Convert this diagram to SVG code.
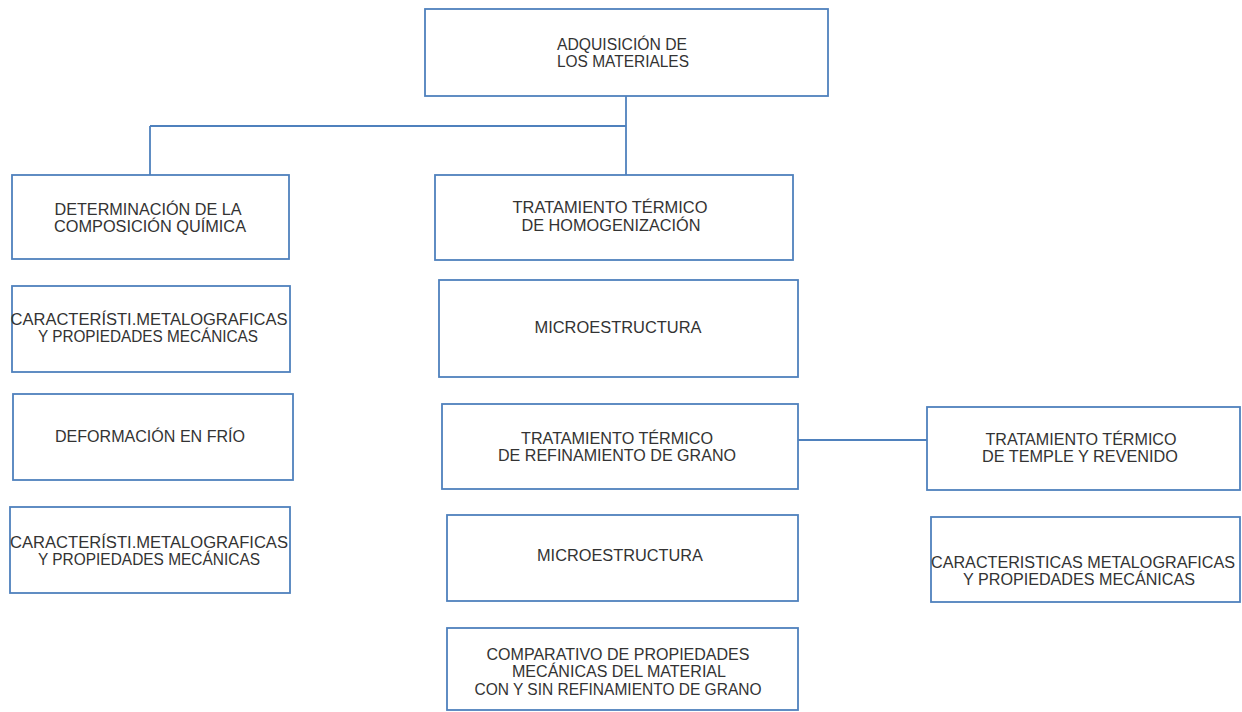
<svg xmlns="http://www.w3.org/2000/svg" width="1242" height="712" viewBox="0 0 1242 712">
<style>
.box{fill:#ffffff;stroke:#4f81bd;stroke-width:1.8}
.con{fill:none;stroke:#4f81bd;stroke-width:1.8}
text{font-family:"Liberation Sans",Arial,sans-serif;font-size:16px;fill:#333333;text-anchor:middle}
</style>
<rect width="1242" height="712" fill="#ffffff"/>
<g id="connectors">
<path class="con" d="M626,96 V175"/>
<path class="con" d="M150,126 H626"/>
<path class="con" d="M150,126 V175"/>
<path class="con" d="M798,440 H928"/>
</g>
<g id="n-adquisicion">
<rect class="box" x="425" y="9" width="403" height="87"/>
<text x="622" y="50" textLength="130" lengthAdjust="spacingAndGlyphs">ADQUISICIÓN DE</text>
<text x="623" y="67" textLength="132" lengthAdjust="spacingAndGlyphs">LOS MATERIALES</text>
</g>
<g id="n-composicion">
<rect class="box" x="12" y="175" width="277" height="84"/>
<text x="148" y="215" textLength="187" lengthAdjust="spacingAndGlyphs">DETERMINACIÓN DE LA</text>
<text x="150" y="232" textLength="192" lengthAdjust="spacingAndGlyphs">COMPOSICIÓN QUÍMICA</text>
</g>
<g id="n-caract1">
<rect class="box" x="12" y="286" width="278" height="86"/>
<text x="149" y="325" textLength="277" lengthAdjust="spacingAndGlyphs">CARACTERÍSTI.METALOGRAFICAS</text>
<text x="148" y="342" textLength="220" lengthAdjust="spacingAndGlyphs">Y PROPIEDADES MECÁNICAS</text>
</g>
<g id="n-deformacion">
<rect class="box" x="13" y="394" width="280" height="86"/>
<text x="150" y="442" textLength="190" lengthAdjust="spacingAndGlyphs">DEFORMACIÓN EN FRÍO</text>
</g>
<g id="n-caract2">
<rect class="box" x="10" y="507" width="280" height="86"/>
<text x="149" y="548" textLength="278" lengthAdjust="spacingAndGlyphs">CARACTERÍSTI.METALOGRAFICAS</text>
<text x="149" y="565" textLength="222" lengthAdjust="spacingAndGlyphs">Y PROPIEDADES MECÁNICAS</text>
</g>
<g id="n-homogenizacion">
<rect class="box" x="435" y="175" width="358" height="85"/>
<text x="610" y="213" textLength="195" lengthAdjust="spacingAndGlyphs">TRATAMIENTO TÉRMICO</text>
<text x="611" y="231" textLength="179" lengthAdjust="spacingAndGlyphs">DE HOMOGENIZACIÓN</text>
</g>
<g id="n-micro1">
<rect class="box" x="439" y="280" width="359" height="97"/>
<text x="618" y="333" textLength="167" lengthAdjust="spacingAndGlyphs">MICROESTRUCTURA</text>
</g>
<g id="n-refinamiento">
<rect class="box" x="442" y="404" width="356" height="85"/>
<text x="617" y="444" textLength="192" lengthAdjust="spacingAndGlyphs">TRATAMIENTO TÉRMICO</text>
<text x="617" y="461" textLength="238" lengthAdjust="spacingAndGlyphs">DE REFINAMIENTO DE GRANO</text>
</g>
<g id="n-micro2">
<rect class="box" x="447" y="515" width="351" height="86"/>
<text x="620" y="561" textLength="166" lengthAdjust="spacingAndGlyphs">MICROESTRUCTURA</text>
</g>
<g id="n-comparativo">
<rect class="box" x="447" y="628" width="351" height="82"/>
<text x="618" y="660" textLength="263" lengthAdjust="spacingAndGlyphs">COMPARATIVO DE PROPIEDADES</text>
<text x="619" y="677" textLength="214" lengthAdjust="spacingAndGlyphs">MECÁNICAS DEL MATERIAL</text>
<text x="618" y="695" textLength="287" lengthAdjust="spacingAndGlyphs">CON Y SIN REFINAMIENTO DE GRANO</text>
</g>
<g id="n-temple">
<rect class="box" x="927" y="407" width="313" height="83"/>
<text x="1081" y="445" textLength="191" lengthAdjust="spacingAndGlyphs">TRATAMIENTO TÉRMICO</text>
<text x="1080" y="462" textLength="196" lengthAdjust="spacingAndGlyphs">DE TEMPLE Y REVENIDO</text>
</g>
<g id="n-caract3">
<rect class="box" x="931" y="517" width="309" height="85"/>
<text x="1083" y="568" textLength="304" lengthAdjust="spacingAndGlyphs">CARACTERISTICAS METALOGRAFICAS</text>
<text x="1079" y="585" textLength="232" lengthAdjust="spacingAndGlyphs">Y PROPIEDADES MECÁNICAS</text>
</g>
</svg>
